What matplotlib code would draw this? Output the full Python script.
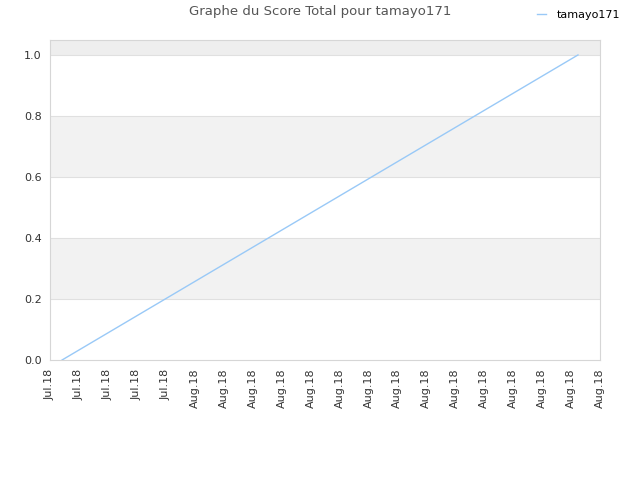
import matplotlib
matplotlib.use("Agg")
import matplotlib.pyplot as plt
import matplotlib.dates as mdates
import pandas as pd

# score data
dates = pd.to_datetime(["2018-07-22 20:00", "2018-08-27 11:30"])
scores = [0.0, 1.0]

# axis setup
x_start = pd.Timestamp("2018-07-22")
x_end = pd.Timestamp("2018-08-29")
tick_dates = pd.date_range(x_start, x_end, freq="2D")
tick_labels = [d.strftime("%b.%y") for d in tick_dates]
band_ranges = [(0.2, 0.4), (0.6, 0.8)]

fig = plt.figure(figsize=(6.4, 4.8), dpi=100)
ax = fig.add_axes([50 / 640, 1 - 360 / 480, 550 / 640, 320 / 480])

ax.set_xlim(x_start, x_end)
ax.set_ylim(0, 1.049)

for lo, hi in band_ranges:
    ax.axhspan(lo, hi, color="#f2f2f2", zorder=0, lw=0)
ax.axhspan(1.0, 1.049, color="#eeeeee", zorder=0, lw=0)
for yv in [0.2, 0.4, 0.6, 0.8, 1.0]:
    ax.axhline(yv, color="#e0e0e0", lw=0.8, zorder=1)

ax.plot(dates, scores, color="#99c9f7", lw=1, label="tamayo171", zorder=3)

ax.set_xticks(tick_dates)
ax.set_xticklabels(tick_labels, rotation=90, fontsize=8, color="#333333")
ax.set_yticks([0.0, 0.2, 0.4, 0.6, 0.8, 1.0])
ax.set_yticklabels(["0.0", "0.2", "0.4", "0.6", "0.8", "1.0"], fontsize=8, color="#333333")
ax.tick_params(length=0, pad=6)

for s in ax.spines.values():
    s.set_color("#d6d6d6")
    s.set_linewidth(0.8)

fig.text(0.5, 1 - 12 / 480, "Graphe du Score Total pour tamayo171",
         ha="center", va="center", fontsize=9.5, color="#555555")
fig.legend(loc="upper right", bbox_to_anchor=(0.985, 1.0), frameon=False,
           fontsize=8, handlelength=0.8, handletextpad=1.0)

fig.savefig("out.png", dpi=100)
